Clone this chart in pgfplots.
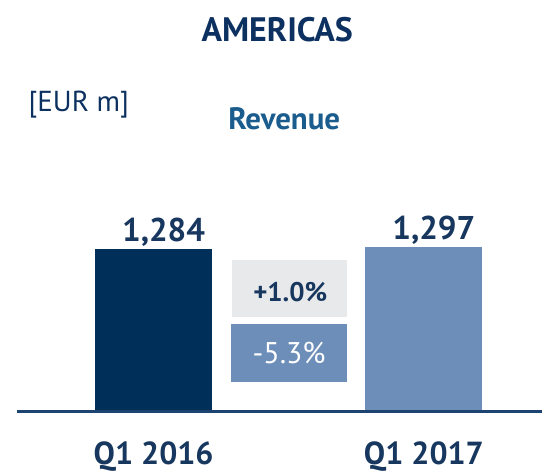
\documentclass[border=0pt]{standalone}
\usepackage{fontspec}
\setmainfont{PT Sans}
\usepackage{pgfplots}
\pgfplotsset{compat=1.18}
\definecolor{navy}{HTML}{00305A}
\definecolor{titlenavy}{HTML}{0C3160}
\definecolor{lightblue}{HTML}{6E8EBA}
\definecolor{boxgrey}{HTML}{E8E9EB}
\definecolor{revblue}{HTML}{1B5C8E}
\definecolor{labnavy}{HTML}{17375E}
\definecolor{axnavy}{HTML}{1D4370}
\begin{document}
\begin{tikzpicture}
\begin{axis}[
  scale only axis, width=543pt, height=465pt,
  xmin=-0.5683, xmax=1.4354, ymin=-430, ymax=3272,
  axis y line=none,
  axis x line=middle,
  x axis line style={draw=none},
  xtick={0,1}, xticklabels={Q1 2016, Q1 2017},
  xtick style={draw=none},
  xticklabel style={anchor=base, yshift=-51pt, font=\fontsize{32}{36}\selectfont\bfseries, text=labnavy},
  ytick=\empty,
  clip=false,
  ybar, bar width=0.432,
  point meta=explicit symbolic,
  nodes near coords,
  nodes near coords style={anchor=base, inner sep=0pt, yshift=8pt, xshift=10pt, font=\fontsize{33}{38}\selectfont\bfseries, text=labnavy},
]
\path (rel axis cs:0,0) rectangle (rel axis cs:1,1);
\addplot[draw=none, fill=navy, bar shift=0pt] coordinates {(0,1284) [1,284]};
\addplot[draw=none, fill=lightblue, bar shift=0pt] coordinates {(1,1297) [1,297]};
\draw[axnavy, line width=3pt] (rel axis cs:0.0313,0.1129) -- (rel axis cs:1,0.1129);
\fill[boxgrey] (rel axis cs:0.4291,0.4387) rectangle (rel axis cs:0.6409,0.3161);
\fill[lightblue] (rel axis cs:0.4273,0.3011) rectangle (rel axis cs:0.6409,0.1763);
\node[anchor=base, inner sep=0pt, font=\fontsize{34}{40}\selectfont\bfseries, text=titlenavy] at (rel axis cs:0.512,0.9097) {AMERICAS};
\node[anchor=base, inner sep=0pt, font=\fontsize{29}{34}\selectfont, text=titlenavy] at (rel axis cs:0.1455,0.7591) {[EUR m]};
\node[anchor=base, inner sep=0pt, font=\fontsize{31}{36}\selectfont\bfseries, text=revblue] at (rel axis cs:0.5249,0.7204) {Revenue};
\node[anchor=base, inner sep=0pt, font=\fontsize{27}{32}\selectfont\bfseries, text=labnavy] at (rel axis cs:0.536,0.3505) {+1.0\%};
\node[anchor=base, inner sep=0pt, font=\fontsize{30}{34}\selectfont, text=white] at (rel axis cs:0.534,0.2151) {-5.3\%};
\end{axis}
\end{tikzpicture}
\end{document}
